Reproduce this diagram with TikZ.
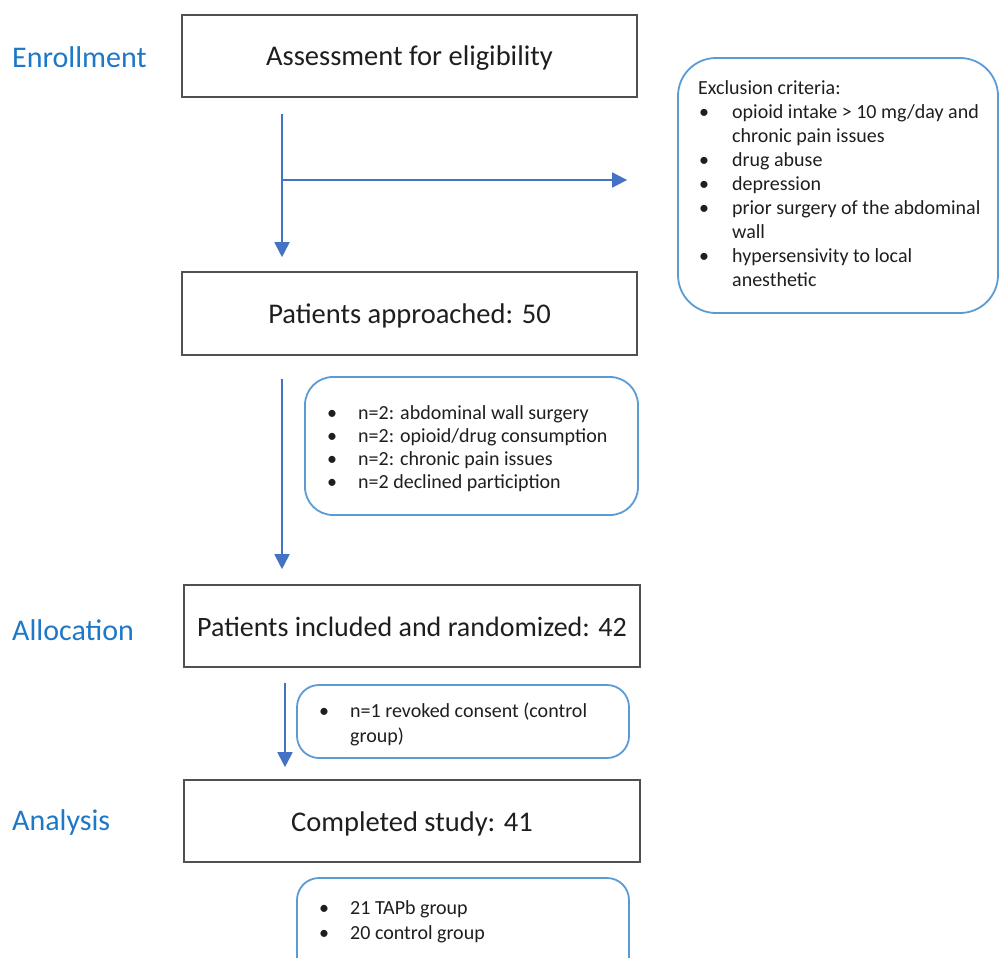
\documentclass[tikz,border=0pt]{standalone}
\usepackage{fontspec}
\setmainfont{Carlito}
\usetikzlibrary{arrows.meta}
\definecolor{lblue}{RGB}{30,120,200}
\definecolor{rblue}{RGB}{91,155,213}
\definecolor{ablue}{RGB}{68,114,196}
\definecolor{bgray}{RGB}{80,80,80}
\definecolor{tgray}{RGB}{30,30,30}
\tikzset{
  mainbox/.style={draw=bgray, line width=1.6pt, minimum width=455pt, minimum height=82pt, inner sep=0pt, text=tgray, text height=22pt, text depth=2pt, font=\fontsize{28.5}{32}\selectfont},
  rbox/.style={draw=rblue, line width=1.8pt, rounded corners=#1, inner sep=0pt},
  phase/.style={anchor=west, inner sep=0pt, text=lblue, font=\fontsize{30}{34}\selectfont},
  arr/.style={draw=ablue, line width=1.8pt, -{Triangle[width=15pt,length=15pt]}},
  listtxt/.style={anchor=base west, inner sep=0pt, text=tgray, font=\fontsize{20}{24}\selectfont},
}
\newcommand{\bul}{\hspace{1pt}\textbullet}
\begin{document}
\begin{tikzpicture}[x=1pt,y=-1pt]
\useasboundingbox (0,0) rectangle (999,958);
% phase labels
\node[phase] (enr) at (12,57) {Enrollment};
\node[phase] (all) at (12,630) {Allocation};
\node[phase] (ana) at (12,822) {Analysis};
% main boxes
\node[mainbox] (a) at (409.5,56) {Assessment for eligibility};
\node[mainbox, minimum height=83pt] (b) at (409.5,313.5) {Patients approached: 50};
\node[mainbox, minimum width=456pt, font=\fontsize{28}{32}\selectfont] (c) at (412,626) {Patients included and randomized: 42};
\node[mainbox, minimum width=456pt] (d) at (412,821) {Completed study: 41};
% rounded boxes
\node[rbox=38pt, minimum width=320pt, minimum height=255pt] (ex1) at (838,185.5) {};
\node[rbox=28pt, minimum width=333pt, minimum height=138pt] (ex2) at (471.5,446) {};
\node[rbox=22pt, minimum width=332pt, minimum height=73pt] (ex3) at (463,721.5) {};
\node[rbox=22pt, minimum width=332pt, minimum height=110pt] (res) at (463,933) {};
% texts
\node[listtxt] (t1) at (698,95) {\begin{tabular}[t]{@{}p{34pt}@{}l@{}}
\multicolumn{2}{@{}l@{}}{Exclusion criteria:}\\
\bul & opioid intake > 10 mg/day and\\
 & chronic pain issues\\
\bul & drug abuse\\
\bul & depression\\
\bul & prior surgery of the abdominal\\
 & wall\\
\bul & hypersensivity to local\\
 & anesthetic
\end{tabular}};
\node[listtxt, font=\fontsize{20}{23}\selectfont] (t2) at (326,419) {\begin{tabular}[t]{@{}p{32pt}@{}l@{}}
\bul & n=2: abdominal wall surgery\\
\bul & n=2: opioid/drug consumption\\
\bul & n=2: chronic pain issues\\
\bul & n=2 declined particiption
\end{tabular}};
\node[listtxt, font=\fontsize{20}{25}\selectfont] (t3) at (318,717) {\begin{tabular}[t]{@{}p{32pt}@{}l@{}}
\bul & n=1 revoked consent (control\\
 & group)
\end{tabular}};
\node[listtxt, font=\fontsize{20}{25}\selectfont] (t4) at (318,914) {\begin{tabular}[t]{@{}p{32pt}@{}l@{}}
\bul & 21 TAPb group\\
\bul & 20 control group
\end{tabular}};
% connectors
\coordinate (col) at (282,0);
\coordinate (branch) at (282,180);
\draw[arr, shorten <=16pt, shorten >=14pt] (a.south -| col) -- (b.north -| col);
\draw[arr, shorten >=50pt] (branch) -- (branch -| ex1.west);
\draw[arr, shorten <=23pt, shorten >=15pt] (b.south -| col) -- (c.north -| col);
\draw[arr, shorten <=15pt, shorten >=12pt] ([xshift=3pt]c.south -| col) -- ([xshift=3pt]d.north -| col);
\end{tikzpicture}
\end{document}
